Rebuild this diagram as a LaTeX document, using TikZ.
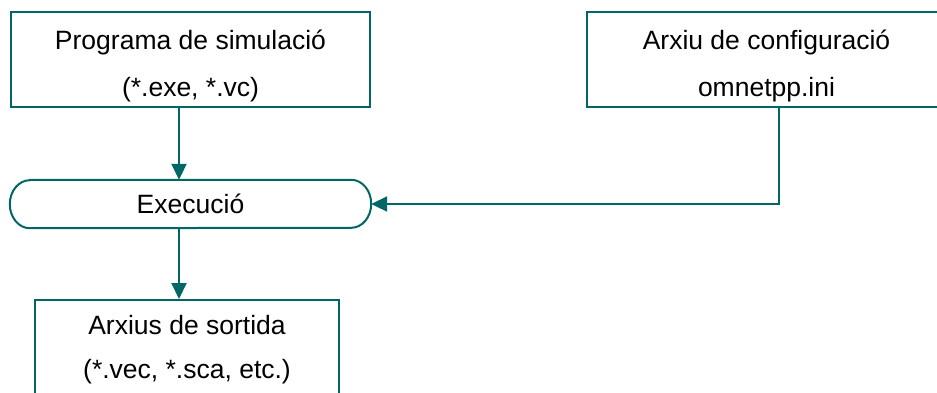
\documentclass[tikz,border=0pt]{standalone}
\usepackage{fontspec}
\setmainfont{Liberation Sans}
\usetikzlibrary{arrows.meta}
\definecolor{teal}{RGB}{0,102,102}
\begin{document}
\begin{tikzpicture}[x=1pt,y=-1pt,
  every node/.style={font=\fontsize{26.5}{47}\selectfont, text=black, inner sep=0pt},
  boxnode/.style={draw=teal, line width=2pt, fill=white},
  boxtext/.style={align=center, yshift=-6pt},
  conn/.style={draw=teal, line width=2pt},
  arr/.style={conn, -{Triangle[length=16pt,width=15pt]}}]
\useasboundingbox (0,0) rectangle (937,392);
\clip (0,0) rectangle (937,392);
\node[boxnode, minimum width=359pt, minimum height=95pt] (prog) at (190.5,59.5) {};
\node[boxtext] (progt) at (prog.center) {Programa de simulació\\(*.exe, *.vc)};
\node[boxnode, minimum width=359pt, minimum height=95pt] (cfg) at (766.5,59.5) {};
\node[boxtext] (cfgt) at (cfg.center) {Arxiu de configuració\\omnetpp.ini};
\node[minimum width=361pt, minimum height=48pt] (ex) at (190.5,204) {};
\draw[conn] ([xshift=20pt]ex.north west) -- ([xshift=-20pt]ex.north east)
  arc[start angle=90, end angle=-90, x radius=20pt, y radius=24pt]
  -- ([xshift=20pt]ex.south west)
  arc[start angle=270, end angle=90, x radius=20pt, y radius=24pt] -- cycle;
\node (ext) at (ex.center) {Execució};
\node[boxnode, minimum width=304pt, minimum height=95pt] (out) at (187,347.5) {};
\node[boxtext, yshift=4pt, font=\fontsize{26.5}{44}\selectfont] (outt) at (out.center) {Arxius de sortida\\(*.vec, *.sca, etc.)};
\coordinate (ax) at (179,0);
\coordinate (cx) at (779,0);
\draw[arr] (prog.south -| ax) -- (ex.north -| ax);
\draw[arr] (ex.south -| ax) -- (out.north -| ax);
\draw[arr] (cfg.south -| cx) |- (ex.east);
\end{tikzpicture}
\end{document}
